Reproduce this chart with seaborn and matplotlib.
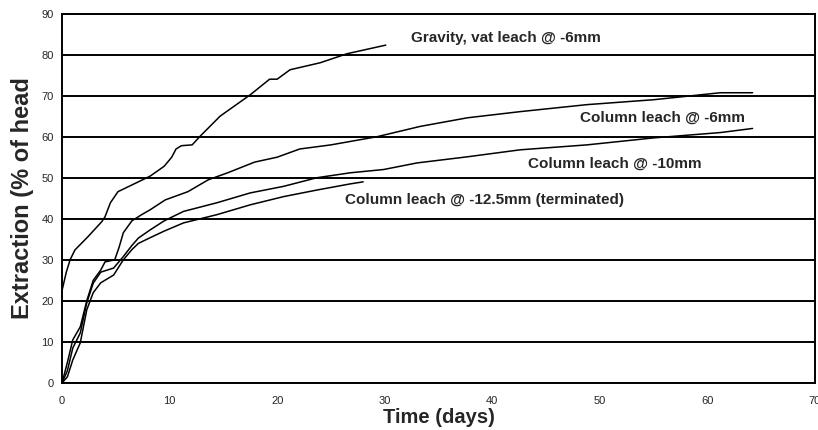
import matplotlib
matplotlib.use("Agg")
import matplotlib.pyplot as plt
import pandas as pd
import seaborn as sns

# values
gravity_days = [0, 0.4, 0.75, 1.2, 2.4, 3.7, 4.0, 4.5, 5.2, 7.1, 8.2, 9.5, 10.2, 10.6,
                11.1, 12.1, 12.8, 14.7, 17.5, 19.3, 20.0, 21.2, 24.0, 26.5, 30.1]
gravity_ext = [22.5, 27, 30, 32.4, 35.6, 39.3, 40.5, 43.9, 46.6, 49, 50.4, 52.8, 55, 57,
               57.8, 58, 60, 65, 70.2, 74, 74, 76.3, 78, 80.2, 82.3]

col6_days = [0, 0.5, 1.0, 1.7, 2.3, 2.9, 3.6, 4.0, 4.9, 5.3, 5.7, 6.5, 7.4, 8.2, 9.6,
             11.7, 13.6, 15.4, 17.9, 20.0, 22.1, 25.0, 29.3, 33.3, 37.7, 42.6, 48.8,
             55.0, 61.2, 64.2]
col6_ext = [0, 5, 10.5, 13.7, 20, 25, 27.5, 29.5, 30, 33, 36.6, 39.5, 41, 42.2, 44.6,
            46.6, 49.5, 51.2, 53.8, 55, 57, 58, 60, 62.5, 64.6, 66.1, 67.8,
            69, 70.7, 70.7]

col10_days = [0, 0.5, 1.0, 1.7, 2.3, 2.9, 3.6, 4.8, 5.7, 6.5, 7.1, 8.2, 9.5, 11.3, 14.4,
              17.5, 20.6, 23.7, 26.8, 29.9, 33.0, 37.7, 42.6, 48.8, 55.0, 61.2, 64.2]
col10_ext = [0, 3, 8.5, 12.2, 19.5, 24.3, 27, 28, 30.8, 33.5, 35.3, 37.3, 39.5, 41.8, 43.9,
             46.3, 47.9, 50, 51.2, 52, 53.6, 55.1, 56.8, 58, 59.7, 61, 62]

col125_days = [0, 0.5, 1.0, 1.7, 2.3, 2.9, 3.6, 4.8, 5.7, 6.5, 7.1, 8.2, 9.5, 11.3, 14.4,
               17.5, 20.6, 23.7, 26.8, 28.0]
col125_ext = [0, 1.5, 5.6, 9.8, 17.8, 22, 24.4, 26.3, 30, 32.5, 34, 35.4, 37, 39, 41,
              43.4, 45.4, 47, 48.5, 49]

series_names = ["Gravity, vat leach @ -6mm", "Column leach @ -6mm",
                "Column leach @ -10mm", "Column leach @ -12.5mm (terminated)"]
x_ticks = [0, 10, 20, 30, 40, 50, 60, 70]
y_ticks = [0, 10, 20, 30, 40, 50, 60, 70, 80, 90]

frames = []
for name, d, e in zip(series_names,
                      [gravity_days, col6_days, col10_days, col125_days],
                      [gravity_ext, col6_ext, col10_ext, col125_ext]):
    frames.append(pd.DataFrame({"day": d, "ext": e, "series": name}))
df = pd.concat(frames, ignore_index=True)

sns.set_style("white")
plt.rcParams["font.family"] = ["Liberation Sans", "DejaVu Sans"]

fig = plt.figure(figsize=(8.18, 4.30), dpi=100)
ax = fig.add_axes([0.0758, 0.1093, 0.9205, 0.8593])

sns.lineplot(data=df, x="day", y="ext", units="series", estimator=None, sort=False,
             color="black", linewidth=1.1, ax=ax)

ax.set_xlim(0, 70)
ax.set_ylim(0, 90)
ax.set_xticks(x_ticks)
ax.set_yticks(y_ticks)
ax.yaxis.grid(True, color="black", linewidth=1.4)
ax.set_axisbelow(True)
for sp in ax.spines.values():
    sp.set_color("black")
    sp.set_linewidth(1.4)
ax.tick_params(axis="both", direction="out", length=3, width=1, color="black",
               labelsize=8, pad=3)
ax.tick_params(axis="x", pad=6)

# curve labels
label_pos = [(32.4, 84.1), (48.2, 64.6), (43.3, 53.4), (26.3, 44.6)]
for name, (lx, ly) in zip(series_names, label_pos):
    ax.text(lx, ly, name, fontsize=11, fontweight="bold", va="center", ha="left")

ax.set_xlabel("Time (days)", fontsize=14.5, fontweight="bold", labelpad=2)
ax.set_ylabel("Extraction (% of head", fontsize=17, fontweight="bold", labelpad=5)

fig.savefig("out.png", dpi=100)
plt.close(fig)
